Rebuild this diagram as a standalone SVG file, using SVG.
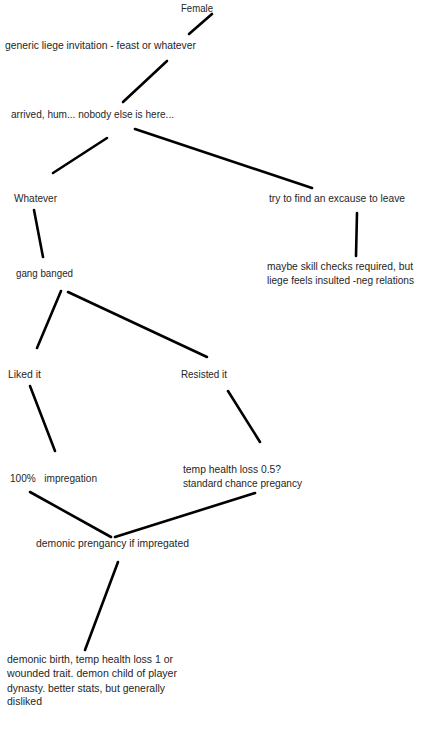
<svg xmlns="http://www.w3.org/2000/svg" width="428" height="750" viewBox="0 0 428 750">
<style>
text{font-family:"Liberation Sans",Arial,sans-serif;font-size:11px;fill:#262626}
.c line{stroke:#000;stroke-width:2.6;stroke-linecap:round}
</style>
<rect width="428" height="750" fill="#fff"/>
<g class="c" id="connectors">
<line x1="212" y1="14" x2="189" y2="34"/>
<line x1="167" y1="61" x2="123" y2="102"/>
<line x1="107" y1="138" x2="53" y2="173"/>
<line x1="135" y1="129" x2="312" y2="188"/>
<line x1="34" y1="210" x2="43" y2="257"/>
<line x1="357" y1="213" x2="356" y2="256"/>
<line x1="61" y1="291" x2="37" y2="348"/>
<line x1="68" y1="292" x2="207" y2="357"/>
<line x1="30" y1="386" x2="55" y2="451"/>
<line x1="228" y1="391" x2="260" y2="442"/>
<line x1="30" y1="492" x2="111" y2="537"/>
<line x1="255" y1="493" x2="115" y2="537"/>
<line x1="118" y1="562" x2="85" y2="650"/>
</g>
<g id="female"><text x="181" y="12" textLength="32" lengthAdjust="spacingAndGlyphs">Female</text></g>
<g id="invitation"><text x="5" y="49" textLength="191" lengthAdjust="spacingAndGlyphs">generic liege invitation - feast or whatever</text></g>
<g id="arrived"><text x="11" y="118" textLength="163" lengthAdjust="spacingAndGlyphs">arrived, hum... nobody else is here...</text></g>
<g id="whatever"><text x="14" y="202" textLength="43" lengthAdjust="spacingAndGlyphs">Whatever</text></g>
<g id="excuse"><text x="269" y="202" textLength="136" lengthAdjust="spacingAndGlyphs">try to find an excause to leave</text></g>
<g id="skill"><text x="267" y="270" textLength="146" lengthAdjust="spacingAndGlyphs">maybe skill checks required, but</text><text x="267" y="284" textLength="147" lengthAdjust="spacingAndGlyphs">liege feels insulted -neg relations</text></g>
<g id="gang"><text x="16" y="277" textLength="57" lengthAdjust="spacingAndGlyphs">gang banged</text></g>
<g id="liked"><text x="8" y="378" textLength="33" lengthAdjust="spacingAndGlyphs">Liked it</text></g>
<g id="resisted"><text x="181" y="378" textLength="46" lengthAdjust="spacingAndGlyphs">Resisted it</text></g>
<g id="impregnation"><text x="10" y="482" textLength="87" lengthAdjust="spacingAndGlyphs" xml:space="preserve">100%   impregation</text></g>
<g id="temphealth"><text x="183" y="473" textLength="98" lengthAdjust="spacingAndGlyphs">temp health loss 0.5?</text><text x="183" y="487" textLength="119" lengthAdjust="spacingAndGlyphs">standard chance pregancy</text></g>
<g id="demonicpreg"><text x="36" y="547" textLength="153" lengthAdjust="spacingAndGlyphs">demonic prengancy if impregated</text></g>
<g id="demonicbirth"><text x="7" y="663" textLength="166" lengthAdjust="spacingAndGlyphs">demonic birth, temp health loss 1 or</text><text x="7" y="677" textLength="170" lengthAdjust="spacingAndGlyphs">wounded trait. demon child of player</text><text x="7" y="692" textLength="158" lengthAdjust="spacingAndGlyphs">dynasty. better stats, but generally</text><text x="7" y="705" textLength="35" lengthAdjust="spacingAndGlyphs">disliked</text></g>
</svg>
